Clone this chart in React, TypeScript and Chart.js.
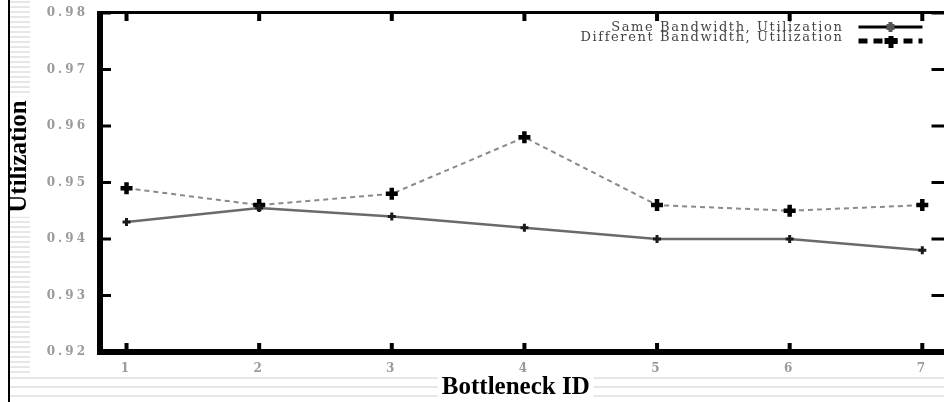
import React, { useEffect, useRef } from "react";
import { Chart, registerables } from "chart.js";

Chart.register(...registerables);

// ---- data ----
const bottleneckIds = [1, 2, 3, 4, 5, 6, 7];
const sameBandwidthUtil = [0.943, 0.9455, 0.944, 0.942, 0.94, 0.94, 0.938];
const differentBandwidthUtil = [0.949, 0.946, 0.948, 0.958, 0.946, 0.945, 0.946];
const seriesLabels = ["Same Bandwidth, Utilization", "Different Bandwidth, Utilization"];
const xAxisTitle = "Bottleneck ID";
const yAxisTitle = "Utilization";
const yMin = 0.92;
const yMax = 0.98;
const yStep = 0.01;

const SERIF = "'Liberation Serif', 'Times New Roman', serif";
const WIDE_SERIF = "'DejaVu Serif', serif";

const decorPlugin = {
  id: "decor",
  beforeDraw(chart: any) {
    const { ctx, width, height } = chart;
    ctx.save();
    ctx.fillStyle = "#ffffff";
    ctx.fillRect(0, 0, width, height);
    // faint scan stripes of the original figure
    ctx.strokeStyle = "#dedede";
    ctx.lineWidth = 1.5;
    for (let y = 2; y < 376; y += 5) {
      ctx.beginPath();
      ctx.moveTo(10, y);
      ctx.lineTo(30, y);
      ctx.stroke();
    }
    for (const y of [378, 387, 396]) {
      ctx.beginPath();
      ctx.moveTo(10, y);
      ctx.lineTo(width, y);
      ctx.stroke();
    }
    ctx.fillStyle = "#000";
    ctx.fillRect(8, 0, 2, height);
    ctx.restore();
    // wide spacing for the tick labels drawn by the scales
    ctx.save();
    (ctx as any).letterSpacing = "3px";
  },
  beforeDatasetsDraw(chart: any) {
    chart.ctx.restore();
  },
  afterDraw(chart: any) {
    const { ctx, chartArea } = chart;
    const { left, right, top, bottom } = chartArea;
    const xs = chart.scales.x;
    const ys = chart.scales.y;
    ctx.save();
    (ctx as any).letterSpacing = "0px";
    ctx.fillStyle = "#000";
    // frame
    ctx.fillRect(left, top - 2, right - left, 3);
    ctx.fillRect(left - 3, top - 2, 6, bottom - top + 5);
    ctx.fillRect(left - 3, bottom - 3, right - left + 3, 6);
    ctx.fillRect(right - 2, top - 2, 3, bottom - top + 5);
    // inward tick marks
    for (const t of xs.ticks) {
      const px = xs.getPixelForValue(t.value);
      ctx.fillRect(px - 2, bottom - 9, 4, 7);
      ctx.fillRect(px - 2, top, 4, 8);
    }
    for (const t of ys.ticks) {
      const py = ys.getPixelForValue(t.value);
      ctx.fillRect(left, py - 1.5, 11, 3);
      ctx.fillRect(right - 16, py - 1.5, 16, 3);
    }

    // axis titles
    ctx.font = `bold 25px ${SERIF}`;
    ctx.textBaseline = "middle";
    ctx.textAlign = "center";
    const xtW = ctx.measureText(xAxisTitle).width;
    const xtX = (left + right) / 2 - 8;
    const xtY = 388;
    ctx.fillStyle = "#fff";
    ctx.fillRect(xtX - xtW / 2 - 4, 376, xtW + 8, 26);
    ctx.fillStyle = "#000";
    ctx.fillText(xAxisTitle, xtX, xtY);

    const ytW = ctx.measureText(yAxisTitle).width;
    const ytX = 19;
    const ytY = (top + bottom) / 2 - 26;
    ctx.fillStyle = "#fff";
    ctx.fillRect(10, ytY - ytW / 2 - 4, 21, ytW + 8);
    ctx.save();
    ctx.translate(ytX, ytY);
    ctx.rotate(-Math.PI / 2);
    ctx.fillStyle = "#000";
    ctx.fillText(yAxisTitle, 0, 1);
    ctx.restore();

    // legend (top right, inside plot)
    const ds = chart.data.datasets;
    const textRight = right - 104;
    const lx0 = right - 89;
    const lx1 = right - 25;
    const lmid = (lx0 + lx1) / 2;
    ctx.font = `13px ${WIDE_SERIF}`;
    (ctx as any).letterSpacing = "1.6px";
    ctx.textAlign = "right";
    ctx.fillStyle = "#444";
    ctx.fillText(ds[0].label, textRight, top + 15);
    ctx.fillText(ds[1].label, textRight, top + 25);
    (ctx as any).letterSpacing = "0px";

    // solid sample
    ctx.strokeStyle = "#000";
    ctx.lineWidth = 3;
    ctx.setLineDash([]);
    ctx.beginPath();
    ctx.moveTo(lx0, top + 14);
    ctx.lineTo(lx1, top + 14);
    ctx.stroke();
    ctx.fillStyle = "#555";
    ctx.fillRect(lmid - 2, top + 9, 4, 10);
    ctx.fillRect(lmid - 4, top + 11, 8, 6);
    // dashed sample
    ctx.lineWidth = 5;
    ctx.setLineDash([9, 6]);
    ctx.beginPath();
    ctx.moveTo(lx0, top + 28);
    ctx.lineTo(lx1, top + 28);
    ctx.stroke();
    ctx.setLineDash([]);
    ctx.fillStyle = "#000";
    ctx.fillRect(lmid - 2, top + 23, 5, 12);
    ctx.fillRect(lmid - 6, top + 25, 13, 6);
    ctx.restore();
  },
};

export default function App() {
  const canvasRef = useRef<HTMLCanvasElement | null>(null);

  useEffect(() => {
    const canvas = canvasRef.current;
    if (!canvas) return;
    const chart = new Chart(canvas, {
      type: "line",
      data: {
        datasets: [
          {
            label: seriesLabels[0],
            data: bottleneckIds.map((x, i) => ({ x, y: sameBandwidthUtil[i] })),
            borderColor: "#6a6a6a",
            borderWidth: 2.5,
            pointStyle: "cross",
            pointRadius: 4,
            pointBorderWidth: 3,
            pointBorderColor: "#1a1a1a",
            pointBackgroundColor: "#1a1a1a",
            tension: 0,
          },
          {
            label: seriesLabels[1],
            data: bottleneckIds.map((x, i) => ({ x, y: differentBandwidthUtil[i] })),
            borderColor: "#8a8a8a",
            borderWidth: 2,
            borderDash: [5, 4],
            pointStyle: "cross",
            pointRadius: 6,
            pointBorderWidth: 4.5,
            pointBorderColor: "#000",
            pointBackgroundColor: "#000",
            tension: 0,
          },
        ],
      },
      options: {
        responsive: false,
        animation: false,
        devicePixelRatio: 1,
        layout: { padding: { top: 13, left: 0, right: 10, bottom: 0 } },
        plugins: {
          legend: { display: false },
          tooltip: { enabled: false },
          title: { display: false },
        },
        scales: {
          x: {
            type: "linear",
            min: 0.8,
            max: 7.19,
            afterBuildTicks: (s: any) => {
              s.ticks = bottleneckIds.map((v) => ({ value: v }));
            },
            afterFit: (s: any) => {
              s.height = 50;
              s.paddingLeft = 0;
              s.paddingRight = 0;
            },
            grid: { display: false, drawTicks: false },
            border: { display: false },
            ticks: {
              autoSkip: false,
              maxRotation: 0,
              padding: 10,
              color: "#9a9a9a",
              font: { family: WIDE_SERIF, size: 12, weight: "bold" },
              callback: (v: any) => String(v),
            },
          },
          y: {
            type: "linear",
            min: yMin,
            max: yMax,
            afterFit: (s: any) => {
              s.width = 100;
              s.paddingTop = 0;
              s.paddingBottom = 0;
            },
            grid: { display: false, drawTicks: false },
            border: { display: false },
            ticks: {
              stepSize: yStep,
              padding: 12,
              color: "#9a9a9a",
              font: { family: WIDE_SERIF, size: 12, weight: "bold" },
              callback: (v: any) => Number(v).toFixed(2),
            },
          },
        },
      },
      plugins: [decorPlugin],
    });
    return () => chart.destroy();
  }, []);

  return (
    <div
      style={{
        position: "absolute",
        left: 0,
        top: 0,
        width: 944,
        height: 402,
        overflow: "hidden",
        background: "#fff",
      }}
    >
      <canvas ref={canvasRef} width={958} height={402} style={{ width: 958, height: 402, display: "block" }} />
    </div>
  );
}
